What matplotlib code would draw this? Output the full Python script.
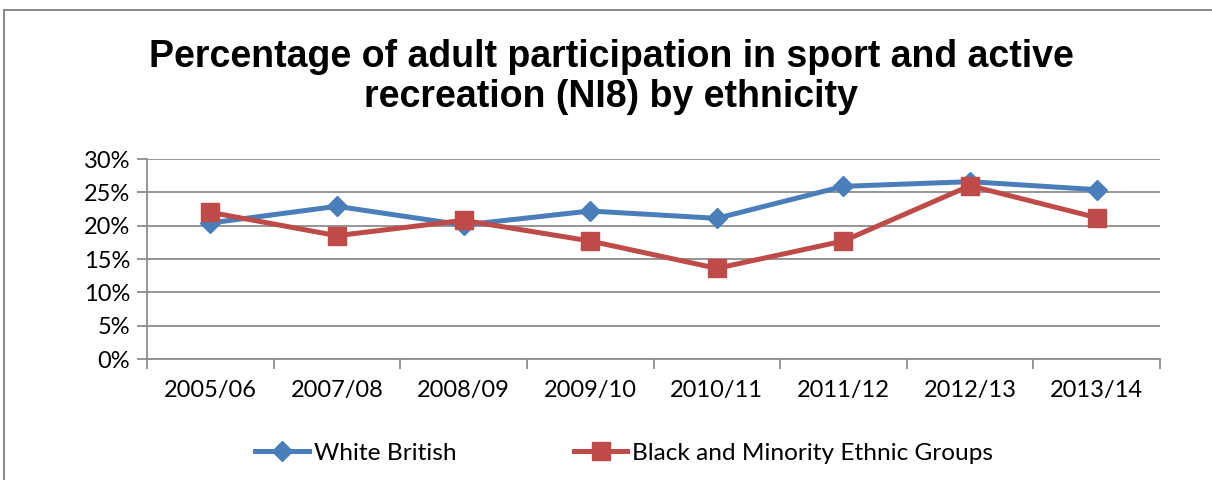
import numpy as np
import matplotlib.pyplot as plt
from matplotlib.patches import Rectangle

years = ['2005/06', '2007/08', '2008/09', '2009/10', '2010/11', '2011/12', '2012/13', '2013/14']
white_british = [20.4, 22.9, 20.1, 22.2, 21.1, 25.9, 26.6, 25.4]
bme = [22.0, 18.5, 20.8, 17.7, 13.6, 17.7, 26.0, 21.2]

blue = '#4A7EBB'
red = '#BE4B48'
grey = '#8C8C8C'

plt.rcParams['font.family'] = ['Lato', 'DejaVu Sans']

fig = plt.figure(figsize=(12.12, 4.8), dpi=100)
ax = fig.add_axes([147 / 1212, 1 - 359 / 480, (1160 - 147) / 1212, 200 / 480])

x = np.arange(len(years))
ax.plot(x, white_british, color=blue, lw=3.6, marker='D', ms=10.5,
        label='White British', zorder=3)
ax.plot(x, bme, color=red, lw=3.6, marker='s', ms=12.5,
        label='Black and Minority Ethnic Groups', zorder=4)

ax.set_xlim(-0.5, len(years) - 0.5)
ax.set_ylim(0, 30)
ax.set_yticks(np.arange(0, 31, 5))
ax.set_yticklabels([f'{v}%' for v in range(0, 31, 5)])
ax.set_xticks(x)
ax.set_xticklabels(years)
ax.set_xticks(np.arange(-0.5, len(years)), minor=True)
ax.tick_params(axis='x', which='major', length=0, pad=15, labelsize=17)
ax.tick_params(axis='x', which='minor', length=7, width=1.3, color=grey, direction='out')
ax.tick_params(axis='y', length=7, width=1.3, color=grey, pad=5, labelsize=17)

ax.grid(axis='y', color=grey, lw=1.3)
ax.set_axisbelow(True)
for s in ['top', 'right']:
    ax.spines[s].set_visible(False)
for s in ['left', 'bottom']:
    ax.spines[s].set_color(grey)
    ax.spines[s].set_linewidth(1.3)

fig.text(611 / 1212, 1 - 77 / 480,
         'Percentage of adult participation in sport and active\nrecreation (NI8) by ethnicity',
         ha='center', va='center', fontsize=27, fontweight='bold',
         family='Liberation Sans', linespacing=1.15)

fig.legend(loc='center', bbox_to_anchor=(0.515, 1 - 453 / 480), ncol=2,
           frameon=False, fontsize=17.6, handlelength=2.2, handletextpad=0.2,
           columnspacing=4.8)

fig.patches.append(Rectangle((4 / 1212, -0.1), 1.2, 1 - 10 / 480 + 0.1,
                             transform=fig.transFigure, fill=False,
                             edgecolor=grey, lw=1.5))

fig.savefig('out.png', dpi=100)
